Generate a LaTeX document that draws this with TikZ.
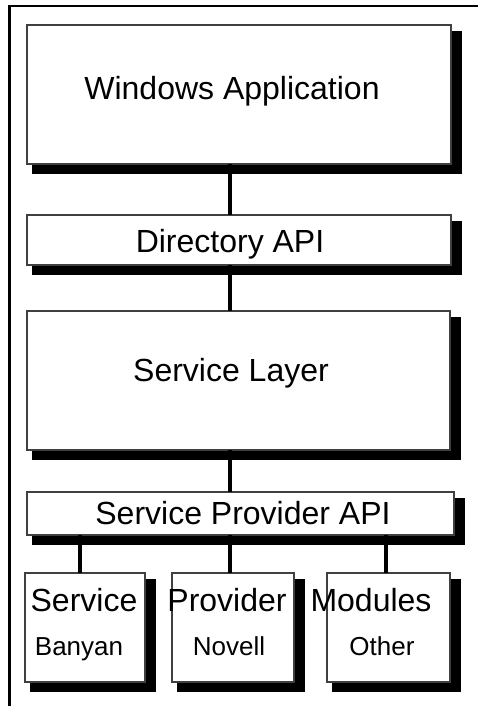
\documentclass[tikz,border=0pt]{standalone}
\usepackage{fontspec}
\setmainfont{Liberation Sans}
\usetikzlibrary{calc,backgrounds}

\tikzset{
  layerbox/.style={draw=black!75, line width=1.3pt, fill=white, rectangle,
    inner sep=0pt, outer sep=0pt},
  bigtext/.style={anchor=base, inner sep=0pt, font=\fontsize{32}{38}\selectfont},
  smalltext/.style={anchor=base, inner sep=0pt, font=\fontsize{26}{31}\selectfont},
  conn/.style={draw=black, line width=4pt},
  frame/.style={draw=black, line width=2.5pt},
  shadowfill/.style={fill=black}
}
% y grows downwards here, so the shadow sits right of and below its box
\newcommand\boxshadow[1]{%
  \fill[shadowfill] ($(#1.north west)+(5,6)$) rectangle ($(#1.south east)+(11,10)$);}

\begin{document}
\begin{tikzpicture}[x=1pt, y=-1pt]
\useasboundingbox (0,0) rectangle (478,706);

% outer frame (top and left edges)
\coordinate (fbl) at (9.5,706);
\coordinate (ftl) at (9.5,6);
\coordinate (ftr) at (478,6);
\draw[frame] (fbl) -- (ftl) -- (ftr);

% layer boxes
\node[layerbox, minimum width=424pt, minimum height=139pt] (win)   at (239,94.5)  {};
\node[layerbox, minimum width=424pt, minimum height=50pt]  (dir)   at (239,240)   {};
\node[layerbox, minimum width=423pt, minimum height=139pt] (svc)   at (238.5,380.5) {};
\node[layerbox, minimum width=427pt, minimum height=43pt]  (spapi) at (240.5,513.5) {};
\node[layerbox, minimum width=120pt, minimum height=109pt] (b1)    at (85,627.5)  {};
\node[layerbox, minimum width=122pt, minimum height=109pt] (b2)    at (233,627.5) {};
\node[layerbox, minimum width=123pt, minimum height=109pt] (b3)    at (388.5,627.5) {};

% drop shadows behind the boxes
\begin{scope}[on background layer]
  \foreach \b in {win,dir,svc,spapi,b1,b2,b3} {\boxshadow{\b}}
\end{scope}

% connectors of the main stack run a little left of the box centres
\coordinate (c1) at ($(win.south west)!0.479!(win.south east)$);
\coordinate (c2) at ($(dir.south west)!0.479!(dir.south east)$);
\coordinate (c3) at ($(svc.south west)!0.480!(svc.south east)$);
\draw[conn] (c1) -- (c1 |- dir.north);
\draw[conn] (c2) -- (c2 |- svc.north);
\draw[conn] (c3) -- (c3 |- spapi.north);
\coordinate (t1) at ($(b1.north west)!0.458!(b1.north east)$);
\coordinate (t2) at ($(b2.north west)!0.475!(b2.north east)$);
\coordinate (t3) at ($(b3.north west)!0.48!(b3.north east)$);
\draw[conn] (t1) -- (t1 |- spapi.south);
\draw[conn] (t2) -- (t2 |- spapi.south);
\draw[conn] (t3) -- (t3 |- spapi.south);

% labels
\node[bigtext] (lwin)  at (232,99.5)  {Windows Application};
\node[bigtext] (ldir)  at (230,252)   {Directory API};
\node[bigtext] (lsvc)  at (231,381)   {Service Layer};
\node[bigtext] (lsp)   at (243,524)   {Service Provider API};
\node[bigtext] (ls1)   at (84,611)    {Service};
\node[bigtext] (ls2)   at (227,611)   {Provider};
\node[bigtext] (ls3)   at (371,611)   {Modules};
\node[smalltext] (lb1) at (79,655)    {Banyan};
\node[smalltext] (lb2) at (229,655)   {Novell};
\node[smalltext] (lb3) at (382,655)   {Other};
\end{tikzpicture}
\end{document}
